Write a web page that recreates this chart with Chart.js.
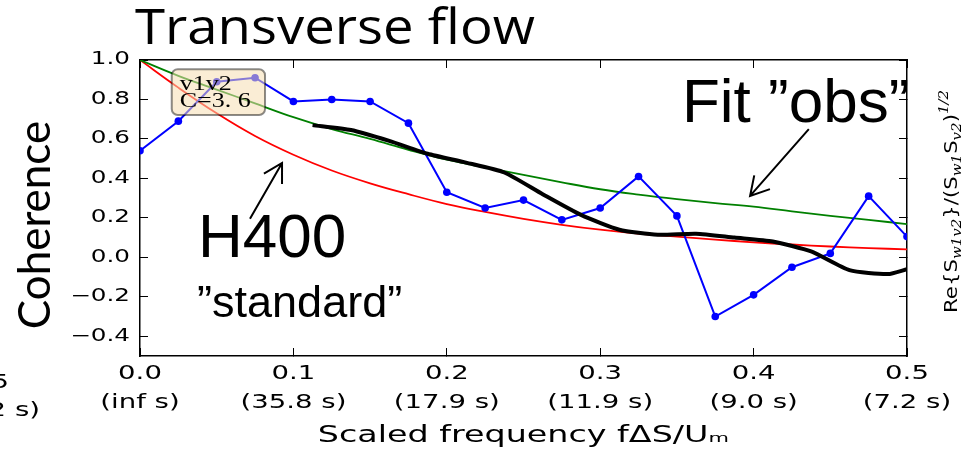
<!DOCTYPE html>
<html>
<head>
<meta charset="utf-8">
<title>Transverse flow coherence</title>
<script src="https://cdn.jsdelivr.net/npm/chart.js@4.4.0/dist/chart.umd.min.js"></script>
<style>
  html, body { margin: 0; padding: 0; background: #fff; }
  #wrap { width: 972px; height: 450px; }
</style>
</head>
<body>
<div id="wrap"><canvas id="coh" width="972" height="450"></canvas></div>
<script>
// Scaled frequency grid of the v1v2 estimate
const freqs = [0, 0.025, 0.05, 0.075, 0.1, 0.125, 0.15, 0.175, 0.2, 0.225, 0.25,
               0.275, 0.3, 0.325, 0.35, 0.375, 0.4, 0.425, 0.45, 0.475, 0.5];
const cohV1V2 = [0.54, 0.69, 0.89, 0.91, 0.79, 0.80, 0.79, 0.68, 0.33, 0.25, 0.29,
                 0.19, 0.25, 0.41, 0.21, -0.30, -0.19, -0.05, 0.02, 0.31, 0.105];
// fitted "obs" curve (green) and H400 standard (red), read on the same grid
const fitObs = [1.0, 0.92, 0.85, 0.78, 0.71, 0.65, 0.60, 0.545, 0.495, 0.455, 0.418,
                0.38, 0.345, 0.318, 0.295, 0.275, 0.257, 0.233, 0.21, 0.19, 0.168];
const h400 = [1.0, 0.86, 0.73, 0.615, 0.52, 0.44, 0.375, 0.32, 0.27, 0.23, 0.195,
              0.165, 0.14, 0.12, 0.105, 0.09, 0.076, 0.065, 0.055, 0.047, 0.04];
// smoothed estimate (thick black)
const smoothFreqs = [0.1125, 0.1375, 0.1625, 0.1875, 0.2125, 0.2375, 0.2625, 0.2875, 0.3125,
                     0.3375, 0.3625, 0.3875, 0.4125, 0.4375, 0.4625, 0.4875, 0.5];
const cohSmooth = [0.67, 0.645, 0.59, 0.525, 0.48, 0.43, 0.32, 0.215, 0.14,
                   0.115, 0.12, 0.10, 0.08, 0.03, -0.065, -0.085, -0.06];

const xTicks = [0, 0.1, 0.2, 0.3, 0.4, 0.5];
const xPeriods = ['inf s', '35.8 s', '17.9 s', '11.9 s', '9.0 s', '7.2 s'];
const yTicks = [-0.4, -0.2, 0, 0.2, 0.4, 0.6, 0.8, 1.0];

// annotations, anchored in data units (f, coherence)
const arrows = [
    { from: [0.0717, 0.195], to: [0.0926, 0.478] },
    { from: [0.436, 0.65], to: [0.3977, 0.311] }
];
const notes = [
    { text: 'H400', at: [0.0378, 0.0], font: '62px "Liberation Sans"' },
    { text: '\u201Dstandard\u201D', at: [0.0372, -0.30], font: '45px "Liberation Sans"' },
    { text: 'Fit \u201Dobs\u201D', at: [0.3533, 0.686], font: '62px "Liberation Sans"' }
];
const boxCorners = [[0.0207, 0.953], [0.0815, 0.7215]];

// the figure was pasted horizontally stretched into the slide
const STRETCH = 1.45;

const pts = (xs, ys) => xs.map((x, i) => ({ x: x, y: ys[i] }));
const fmt = v => v.toFixed(1).replace('-', '\u2212');

const slide = {
    id: 'slide',
    beforeInit(chart) {
        const ctx = chart.ctx;
        const fill = ctx.fillText;
        ctx._sx = 1;
        ctx.fillText = function (t, x, y, w) {
            if (this._sx === 1) {
                return w === undefined ? fill.call(this, t, x, y) : fill.call(this, t, x, y, w);
            }
            this.save();
            this.translate(x, y);
            this.scale(this._sx, 1);
            fill.call(this, t, 0, 0);
            this.restore();
        };
    },
    beforeDraw(chart) {
        chart.ctx._sx = STRETCH;
    },
    afterDatasetsDraw(chart) {
        // "v1v2 / C=3.6" box from the original figure
        const ctx = chart.ctx, sx = chart.scales.x, sy = chart.scales.y;
        const x0 = sx.getPixelForValue(boxCorners[0][0]), y0 = sy.getPixelForValue(boxCorners[0][1]);
        const x1 = sx.getPixelForValue(boxCorners[1][0]), y1 = sy.getPixelForValue(boxCorners[1][1]);
        ctx.save();
        ctx.beginPath();
        ctx.roundRect(x0, y0, x1 - x0, y1 - y0, 6);
        ctx.fillStyle = 'rgba(245, 222, 179, 0.55)';
        ctx.fill();
        ctx.lineWidth = 2;
        ctx.strokeStyle = 'rgba(0, 0, 0, 0.45)';
        ctx.stroke();
        ctx.fillStyle = '#000';
        ctx.font = '20px "Liberation Serif"';
        ctx._sx = 1.3;
        ctx.textAlign = 'left';
        ctx.textBaseline = 'alphabetic';
        ctx.fillText('v1v2', x0 + 8, y0 + 21);
        ctx.fillText('C=3. 6', x0 + 8, y0 + 38);
        ctx._sx = STRETCH;
        ctx.restore();
    },
    afterDraw(chart) {
        const ctx = chart.ctx, sx = chart.scales.x, sy = chart.scales.y;
        ctx.save();
        ctx.fillStyle = '#000';
        ctx.strokeStyle = '#000';

        // cut-off labels of the neighbouring panel
        ctx._sx = STRETCH;
        ctx.font = '19px "DejaVu Sans"';
        ctx.textAlign = 'right';
        ctx.textBaseline = 'middle';
        ctx.fillText('5', 9, 383);
        ctx.fillText('2 s)', 40, 411);

        // slide title, a little wider than Open Sans
        ctx.textAlign = 'left';
        ctx.textBaseline = 'alphabetic';
        ctx._sx = 1.09;
        ctx.font = '50px "Open Sans"';
        ctx.fillText('Transverse flow', 135, 44);

        // right-hand axis label of the original figure
        ctx._sx = 1;
        drawRightLabel(ctx, 957, 313);

        ctx.save();
        ctx.translate(50, 225);
        ctx.rotate(-Math.PI / 2);
        ctx.textAlign = 'center';
        ctx.font = '44px Lato';
        ctx.fillText('Coherence', 0, 0);
        ctx.restore();

        notes.forEach(n => {
            ctx.font = n.font;
            ctx.fillText(n.text, sx.getPixelForValue(n.at[0]), sy.getPixelForValue(n.at[1]));
        });

        ctx.lineWidth = 2;
        arrows.forEach(a => {
            drawArrow(ctx,
                sx.getPixelForValue(a.from[0]), sy.getPixelForValue(a.from[1]),
                sx.getPixelForValue(a.to[0]), sy.getPixelForValue(a.to[1]));
        });
        ctx.restore();
    }
};

function drawArrow(ctx, x1, y1, x2, y2) {
    const a = Math.atan2(y2 - y1, x2 - x1), head = 21, spread = 0.52;
    ctx.beginPath();
    ctx.moveTo(x1, y1);
    ctx.lineTo(x2, y2);
    ctx.moveTo(x2 - head * Math.cos(a - spread), y2 - head * Math.sin(a - spread));
    ctx.lineTo(x2, y2);
    ctx.lineTo(x2 - head * Math.cos(a + spread), y2 - head * Math.sin(a + spread));
    ctx.stroke();
}

// Re{S_w1v2}/(S_w1 S_v2)^1/2, written bottom to top
function drawRightLabel(ctx, x, y) {
    const parts = [
        ['Re{S', '17px "DejaVu Sans"', 0],
        ['w1v2', 'italic 12px "DejaVu Serif"', 4],
        ['}/(S', '17px "DejaVu Sans"', 0],
        ['w1', 'italic 12px "DejaVu Serif"', 4],
        ['S', '17px "DejaVu Sans"', 0],
        ['v2', 'italic 12px "DejaVu Serif"', 4],
        [')', '17px "DejaVu Sans"', 0],
        ['1/2', 'italic 12px "DejaVu Serif"', -9]
    ];
    ctx.save();
    ctx.translate(x, y);
    ctx.rotate(-Math.PI / 2);
    ctx.scale(1.25, 1);
    ctx.textAlign = 'left';
    ctx.textBaseline = 'alphabetic';
    let pos = 0;
    parts.forEach(p => {
        ctx.font = p[1];
        ctx.fillText(p[0], pos, p[2]);
        pos += ctx.measureText(p[0]).width;
    });
    ctx.restore();
}

const tickFont = { family: 'DejaVu Sans', size: 19, lineHeight: 1.55 };
const frame = { color: '#000', width: 1.5 };
const inward = { drawOnChartArea: false, tickLength: -8, tickColor: '#000', tickWidth: 1 };

new Chart(document.getElementById('coh'), {
    type: 'line',
    data: {
        datasets: [{
            label: 'smoothed',
            data: pts(smoothFreqs, cohSmooth),
            borderColor: '#000000',
            borderWidth: 4,
            pointRadius: 0,
            tension: 0.2,
            order: 0
        }, {
            label: 'v1v2',
            data: pts(freqs, cohV1V2),
            borderColor: '#0000ff',
            backgroundColor: '#0000ff',
            borderWidth: 2,
            pointRadius: 3.8,
            pointBorderWidth: 0,
            tension: 0,
            order: 1
        }, {
            label: 'Fit "obs"',
            data: pts(freqs, fitObs),
            borderColor: '#008000',
            borderWidth: 1.8,
            pointRadius: 0,
            tension: 0.4,
            order: 2
        }, {
            label: 'H400',
            data: pts(freqs, h400),
            borderColor: '#ff0000',
            borderWidth: 1.8,
            pointRadius: 0,
            tension: 0.4,
            order: 3
        }]
    },
    options: {
        responsive: false,
        animation: false,
        layout: { padding: 0 },
        plugins: {
            legend: { display: false },
            tooltip: { enabled: false },
            title: { display: false }
        },
        scales: {
            x: {
                type: 'linear',
                position: 'bottom',
                min: 0,
                max: 0.5,
                afterBuildTicks: s => { s.ticks = xTicks.map(v => ({ value: v })); },
                afterFit: s => { s.height = 94; },
                grid: inward,
                border: frame,
                ticks: {
                    color: '#000',
                    font: tickFont,
                    padding: 11,
                    maxRotation: 0,
                    autoSkip: false,
                    callback: (v, i) => [fmt(v), '(' + xPeriods[i] + ')']
                },
                title: {
                    display: true,
                    text: 'Scaled frequency f\u0394S/U\u2098',
                    color: '#000',
                    font: { family: 'DejaVu Sans', size: 23 },
                    padding: 0
                }
            },
            x2: {
                type: 'linear',
                position: 'top',
                min: 0,
                max: 0.5,
                afterBuildTicks: s => { s.ticks = xTicks.map(v => ({ value: v })); },
                afterFit: s => { s.height = 60; },
                grid: inward,
                border: frame,
                ticks: { display: false }
            },
            y: {
                type: 'linear',
                position: 'left',
                min: -0.5,
                max: 1.0,
                afterBuildTicks: s => { s.ticks = yTicks.map(v => ({ value: v })); },
                afterFit: s => { s.width = 140; },
                grid: inward,
                border: frame,
                ticks: {
                    color: '#000',
                    font: { family: 'DejaVu Sans', size: 17 },
                    padding: 18,
                    callback: v => fmt(v)
                }
            },
            y2: {
                type: 'linear',
                position: 'right',
                min: -0.5,
                max: 1.0,
                afterBuildTicks: s => { s.ticks = yTicks.map(v => ({ value: v })); },
                afterFit: s => { s.width = 65; },
                grid: inward,
                border: frame,
                ticks: { display: false }
            }
        }
    },
    plugins: [slide]
});
</script>
</body>
</html>
